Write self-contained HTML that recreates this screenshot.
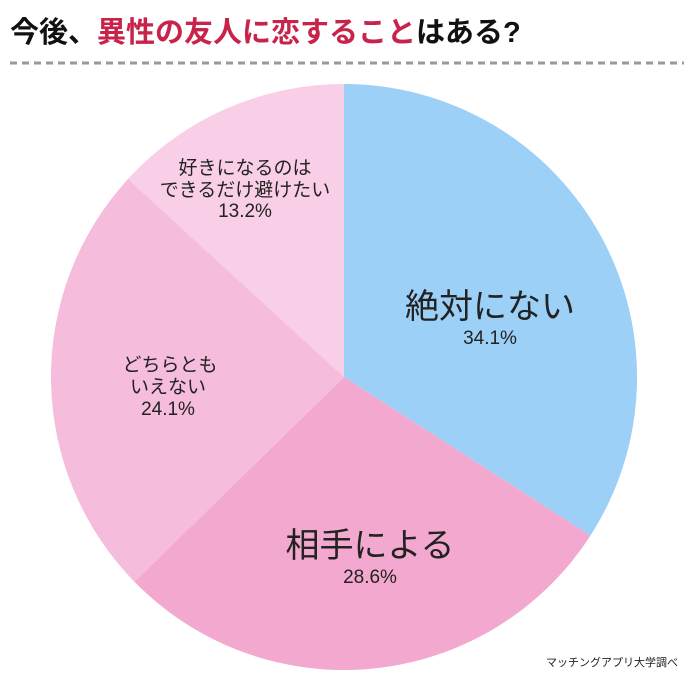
<!DOCTYPE html>
<html><head><meta charset="utf-8"><style>
html,body{margin:0;padding:0;background:#fff;}
body{width:690px;height:684px;overflow:hidden;}
text{font-family:"Liberation Sans","Noto Sans CJK JP",sans-serif;}
</style></head><body>
<svg width="690" height="684" viewBox="0 0 690 684" xmlns="http://www.w3.org/2000/svg">
<text x="10" y="42" font-size="29" font-weight="bold" fill="#111">今後、<tspan fill="#c8234a">異性の友人に恋すること</tspan>はある?</text>
<line x1="10" y1="63" x2="684" y2="63" stroke="#999" stroke-width="3" stroke-dasharray="7,5"/>
<g transform="translate(344,377)">
<path d="M0,0 L0,-293 A293,293 0 0 1 246.4,158.6 Z" fill="#9dd0f7"/>
<path d="M0,0 L246.4,158.6 A293,293 0 0 1 -209.6,204.7 Z" fill="#f3a9cf"/>
<path d="M0,0 L-209.6,204.7 A293,293 0 0 1 -216.0,-198.0 Z" fill="#f5bcdb"/>
<path d="M0,0 L-216.0,-198.0 A293,293 0 0 1 0,-293 Z" fill="#f8cfe6"/>
</g>
<g fill="#222" text-anchor="middle">
<text x="490" y="318" font-size="34">絶対にない</text>
<text x="490" y="344" font-size="19">34.1%</text>
<text x="370" y="557" font-size="34">相手による</text>
<text x="370" y="583" font-size="19">28.6%</text>
<text x="170" y="371" font-size="19">どちらとも</text>
<text x="168" y="393" font-size="19">いえない</text>
<text x="168" y="415" font-size="19">24.1%</text>
<text x="245" y="174" font-size="19">好きになるのは</text>
<text x="245" y="196" font-size="19">できるだけ避けたい</text>
<text x="245" y="217" font-size="19">13.2%</text>
<text x="612" y="666" font-size="11">マッチングアプリ大学調べ</text>
</g>
</svg>
</body></html>
